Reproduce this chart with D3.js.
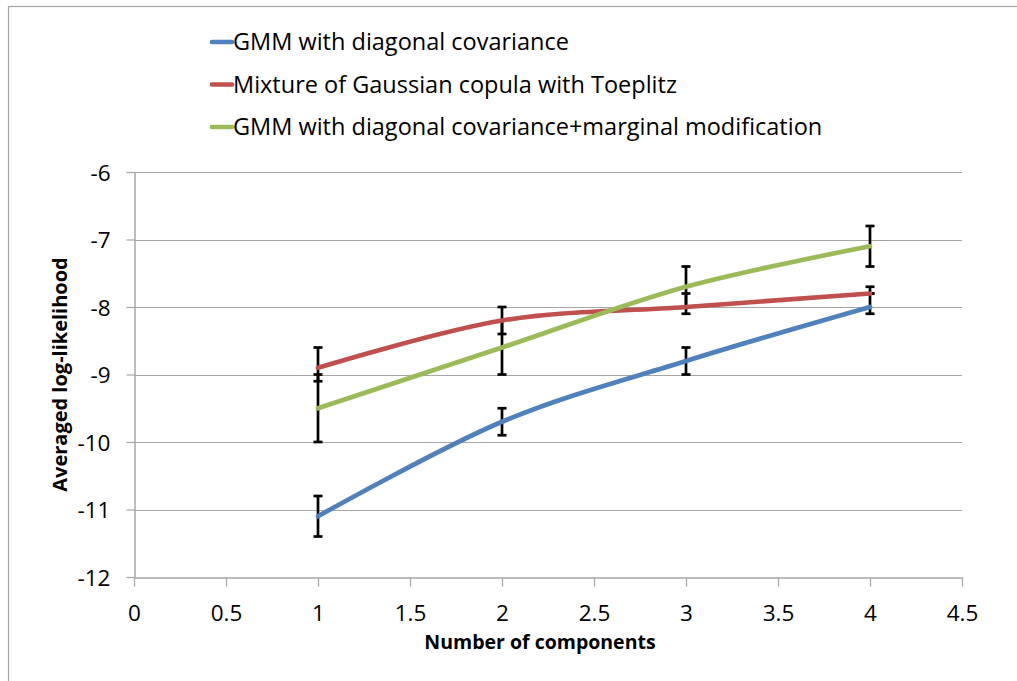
<!DOCTYPE html>
<html>
<head>
<meta charset="utf-8">
<script src="https://cdn.jsdelivr.net/npm/d3@7"></script>
<style>
  html, body { margin: 0; padding: 0; background: #fff; }
  svg { display: block; }
  text { font-family: "Open Sans", Lato, "DejaVu Sans", sans-serif; fill: #000; }
</style>
</head>
<body>
<svg id="chart" width="1017" height="681"></svg>
<script>
// Number of mixture components on the x axis
const components = [1, 2, 3, 4];

// Series names (legend order)
const seriesNames = [
  "GMM with diagonal covariance",
  "Mixture of Gaussian copula with Toeplitz",
  "GMM with diagonal covariance+marginal modification"
];
const seriesColors = ["#4F81BD", "#C0504D", "#9BBB59"];

// Averaged log-likelihood per series
const gmmDiag = [-11.1, -9.7, -8.8, -8.0];
const copulaToeplitz = [-8.9, -8.2, -8.0, -7.8];
const gmmMarginal = [-9.5, -8.6, -7.7, -7.1];

// Error bar extents (upper / lower) per series
const gmmDiagUpper = [-10.8, -9.5, -8.6, -7.8];
const gmmDiagLower = [-11.4, -9.9, -9.0, -8.1];
const copulaUpper = [-8.6, -8.0, -7.8, -7.7];
const copulaLower = [-9.1, -8.4, -8.1, -7.8];
const marginalUpper = [-9.0, -8.2, -7.4, -6.8];
const marginalLower = [-10.0, -9.0, -8.0, -7.4];

// Axis ticks
const xTicks = [0, 0.5, 1, 1.5, 2, 2.5, 3, 3.5, 4, 4.5];
const yTicks = [-12, -11, -10, -9, -8, -7, -6];

const series = [
  { name: seriesNames[0], color: seriesColors[0], values: gmmDiag, upper: gmmDiagUpper, lower: gmmDiagLower },
  { name: seriesNames[1], color: seriesColors[1], values: copulaToeplitz, upper: copulaUpper, lower: copulaLower },
  { name: seriesNames[2], color: seriesColors[2], values: gmmMarginal, upper: marginalUpper, lower: marginalLower }
];

const svg = d3.select("#chart");

// Outer frame
svg.append("rect")
  .attr("x", 8.5).attr("y", 6.5)
  .attr("width", 1030).attr("height", 700)
  .attr("fill", "none").attr("stroke", "#A6A6A6").attr("stroke-width", 1.2);

const plot = { left: 134, right: 962, top: 172, bottom: 577 };

const x = d3.scaleLinear().domain([0, 4.5]).range([plot.left, plot.right]);
const y = d3.scaleLinear().domain([-12, -6]).range([plot.bottom, plot.top]);

// Horizontal gridlines
svg.append("g")
  .selectAll("line")
  .data(yTicks.filter(t => t !== -12))
  .join("line")
  .attr("x1", plot.left).attr("x2", plot.right)
  .attr("y1", d => Math.round(y(d)) + 0.5).attr("y2", d => Math.round(y(d)) + 0.5)
  .attr("stroke", "#A6A6A6").attr("stroke-width", 1.2);

// Y axis
const yAxis = svg.append("g")
  .attr("transform", `translate(${plot.left + 0.5},0)`)
  .call(d3.axisLeft(y).tickValues(yTicks).tickSize(8).tickSizeOuter(0).tickPadding(16));
yAxis.select(".domain").attr("stroke", "#A6A6A6").attr("stroke-width", 1.5);
yAxis.selectAll(".tick line").attr("stroke", "#A6A6A6").attr("stroke-width", 1.2);
yAxis.selectAll(".tick text").attr("font-size", 22.5).attr("dy", "0.36em")
  .text(d => String(d));

// X axis
const xAxis = svg.append("g")
  .attr("transform", `translate(0,${plot.bottom + 0.5})`)
  .call(d3.axisBottom(x).tickValues(xTicks).tickSize(9).tickSizeOuter(0).tickPadding(19).tickFormat(d => String(d)));
xAxis.select(".domain").attr("stroke", "#A6A6A6").attr("stroke-width", 1.5);
xAxis.selectAll(".tick line").attr("stroke", "#A6A6A6").attr("stroke-width", 1.2);
xAxis.selectAll(".tick text").attr("font-size", 22.5);

// Axis titles
svg.append("text")
  .attr("x", 540).attr("y", 649)
  .attr("text-anchor", "middle").attr("font-size", 19.5).attr("font-weight", "bold")
  .text("Number of components");

svg.append("text")
  .attr("transform", `translate(67,${(plot.top + plot.bottom) / 2}) rotate(-90)`)
  .attr("text-anchor", "middle").attr("font-size", 20).attr("font-weight", "bold")
  .text("Averaged log-likelihood");

// Error bars (drawn beneath the series lines)
const bars = svg.append("g").attr("stroke", "#000").attr("stroke-width", 2.7);
series.forEach(s => {
  components.forEach((c, i) => {
    const cx = x(c);
    bars.append("line")
      .attr("x1", cx).attr("x2", cx)
      .attr("y1", y(s.upper[i])).attr("y2", y(s.lower[i]));
    [s.upper[i], s.lower[i]].forEach(v => {
      bars.append("line")
        .attr("x1", cx - 4.5).attr("x2", cx + 4.5)
        .attr("y1", y(v)).attr("y2", y(v));
    });
  });
});

// Smoothed series lines
const line = d3.line()
  .x((d, i) => x(components[i]))
  .y(d => y(d))
  .curve(d3.curveCatmullRom.alpha(0));

const lines = svg.append("g");
series.forEach(s => {
  lines.append("path")
    .datum(s.values)
    .attr("d", line)
    .attr("fill", "none")
    .attr("stroke", s.color)
    .attr("stroke-width", 4.7)
    .attr("stroke-linecap", "round");
});

// Legend
const legend = svg.append("g");
series.forEach((s, i) => {
  const ly = 42 + i * 42.5;
  legend.append("line")
    .attr("x1", 212).attr("x2", 232)
    .attr("y1", ly).attr("y2", ly)
    .attr("stroke", s.color).attr("stroke-width", 4.7).attr("stroke-linecap", "round");
  legend.append("text")
    .attr("x", 233).attr("y", ly).attr("dy", "0.35em")
    .attr("font-size", 23.5)
    .text(s.name);
});
</script>
</body>
</html>
